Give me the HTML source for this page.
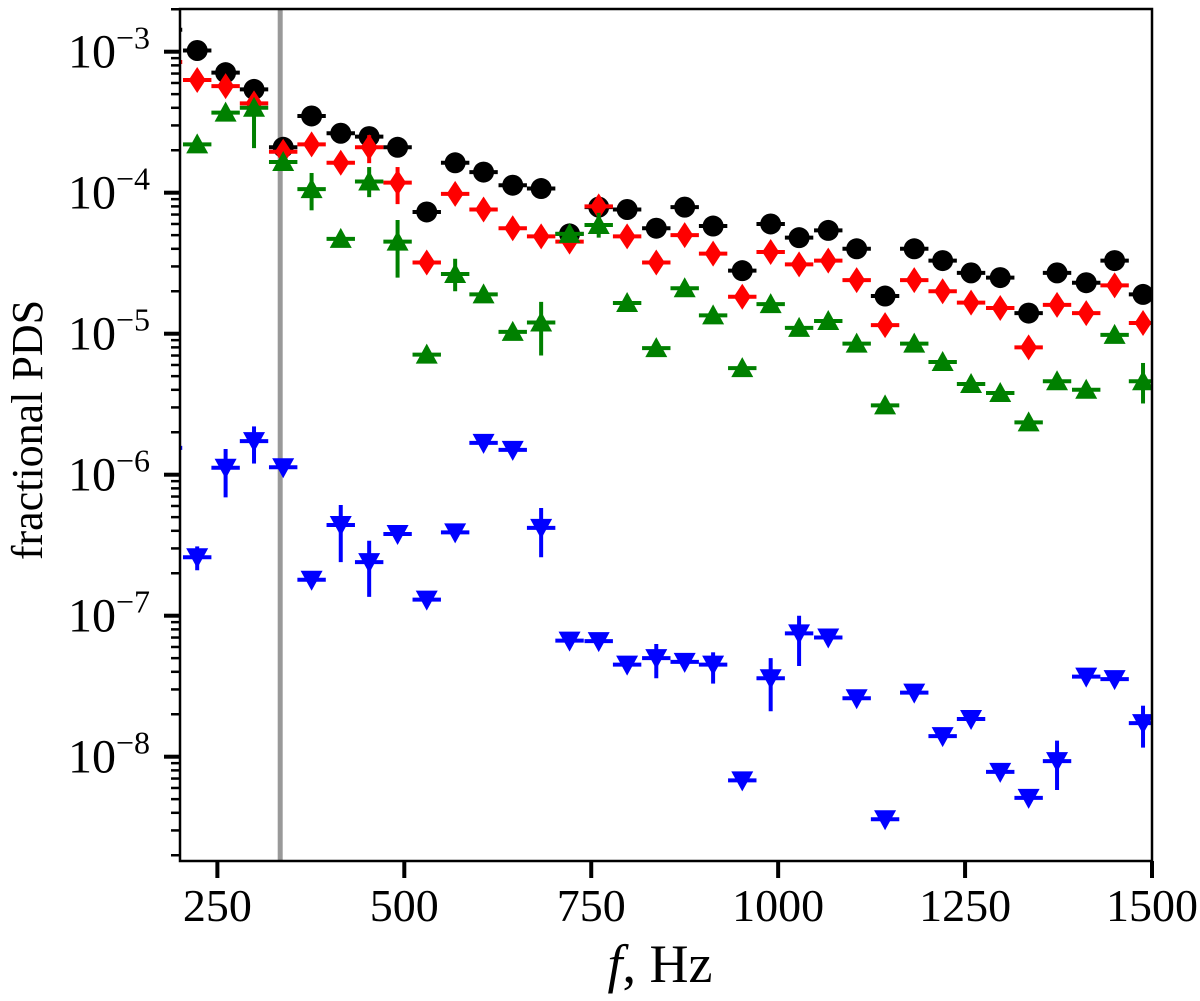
<!DOCTYPE html>
<html><head><meta charset="utf-8"><style>
html,body{margin:0;padding:0;background:#fff;}
svg text{font-family:"Liberation Serif",serif;fill:#000;}
</style></head><body>
<svg id="chart" width="1200" height="996" viewBox="0 0 1200 996" xmlns="http://www.w3.org/2000/svg">
<defs><clipPath id="plotclip"><rect x="180" y="9" width="972" height="852"/></clipPath></defs>
<g id="marks" clip-path="url(#plotclip)"></g>
<g id="axes"></g>
<text x="0" y="0" font-size="44" text-anchor="middle" transform="translate(42,430) rotate(-90)">fractional PDS</text>
<text x="660" y="982" font-size="54" text-anchor="middle"><tspan font-style="italic">f</tspan>, Hz</text>
</svg>
<script>
const freqs = [184,223,261,299,338,376,415,453,491,530,568,606,645,683,721,760,798,837,875,913,952,990,1028,1067,1105,1143,1182,1220,1258,1297,1335,1373,1412,1450,1488];
const blackVals = [1.43e-3,1.02e-3,7.1e-4,5.4e-4,2.1e-4,3.5e-4,2.64e-4,2.5e-4,2.1e-4,7.3e-5,1.63e-4,1.4e-4,1.13e-4,1.07e-4,5.1e-5,7.9e-5,7.6e-5,5.6e-5,7.9e-5,5.8e-5,2.8e-5,6.0e-5,4.8e-5,5.4e-5,4.0e-5,1.85e-5,4.0e-5,3.3e-5,2.7e-5,2.5e-5,1.4e-5,2.7e-5,2.3e-5,3.3e-5,1.9e-5];
const redVals = [8.45e-4,6.3e-4,5.7e-4,4.3e-4,1.95e-4,2.2e-4,1.63e-4,2.1e-4,1.18e-4,3.2e-5,9.8e-5,7.6e-5,5.6e-5,4.9e-5,4.5e-5,8.0e-5,4.9e-5,3.2e-5,5.0e-5,3.7e-5,1.83e-5,3.8e-5,3.1e-5,3.3e-5,2.4e-5,1.15e-5,2.4e-5,2.0e-5,1.66e-5,1.52e-5,8.0e-6,1.6e-5,1.4e-5,2.2e-5,1.19e-5];
const greenVals = [null,2.2e-4,3.7e-4,4.0e-4,1.65e-4,1.06e-4,4.7e-5,1.2e-4,4.5e-5,7.1e-6,2.65e-5,1.9e-5,1.03e-5,1.2e-5,5.1e-5,5.9e-5,1.65e-5,7.9e-6,2.1e-5,1.35e-5,5.7e-6,1.62e-5,1.1e-5,1.23e-5,8.5e-6,3.1e-6,8.5e-6,6.3e-6,4.4e-6,3.8e-6,2.35e-6,4.6e-6,4.0e-6,9.8e-6,4.6e-6];
const blueVals = [1.55e-6,2.6e-7,1.12e-6,1.73e-6,1.13e-6,1.8e-7,4.4e-7,2.4e-7,3.8e-7,1.3e-7,3.9e-7,1.68e-6,1.5e-6,4.2e-7,6.65e-8,6.6e-8,4.5e-8,5.0e-8,4.7e-8,4.5e-8,6.8e-9,3.6e-8,7.5e-8,7.0e-8,2.6e-8,3.6e-9,2.85e-8,1.4e-8,1.85e-8,7.8e-9,5.1e-9,9.3e-9,3.7e-8,3.55e-8,1.73e-8];
const redErr = [[7,2.56e-4,1.62e-4],[8,1.52e-4,8.3e-5]];
const greenErr = [[3,4.5e-4,2.07e-4],[5,1.38e-4,7.5e-5],[7,1.52e-4,9.3e-5],[8,6.4e-5,2.5e-5],[10,3.4e-5,2.0e-5],[13,1.68e-5,7.0e-6],[15,7.2e-5,4.8e-5],[34,6.2e-6,3.2e-6]];
const blueErr = [[1,3.1e-7,2.1e-7],[2,1.52e-6,6.9e-7],[3,2.2e-6,1.2e-6],[6,6.1e-7,2.4e-7],[7,3.4e-7,1.36e-7],[13,5.8e-7,2.6e-7],[17,6.3e-8,3.6e-8],[19,5.5e-8,3.3e-8],[21,5.0e-8,2.1e-8],[22,1.0e-7,4.4e-8],[31,1.3e-8,5.8e-9],[34,2.3e-8,1.16e-8]];
const binHalfWidth = 19;
const refLineFreq = 334;
const xTicks = [250,500,750,1000,1250,1500];
const yTickExps = [-3,-4,-5,-6,-7,-8];

const NS = "http://www.w3.org/2000/svg";
const X0=180, X1=1152, Y0=9, Y1=861;
function xPx(f){ return X0 + (f-200)/(1500-200)*(X1-X0); }
function yPx(v){ return 51.7 + (-3 - Math.log10(v))*141; }
function mk(tag, attrs, parent){ const e=document.createElementNS(NS,tag); for(const k in attrs) e.setAttribute(k,attrs[k]); parent.appendChild(e); return e; }
const marks=document.getElementById('marks');
const axes=document.getElementById('axes');

const rl = mk('line',{x1:xPx(refLineFreq),x2:xPx(refLineFreq),y1:Y0,y2:Y1,stroke:'#999',"stroke-width":5},marks);



function drawSeries(name, vals, errs, color, shape){
  const g=mk('g',{},marks);
  
  
  vals.forEach((v,i)=>{
    if(v===null) return;
    const cx=xPx(freqs[i]), cy=yPx(v);
    const xl=mk('line',{x1:xPx(freqs[i]-binHalfWidth),x2:xPx(freqs[i]+binHalfWidth),y1:cy,y2:cy,stroke:color,"stroke-width":4},g);
    
    
    let m;
    if(shape==='circle') m=mk('circle',{cx:cx,cy:cy,r:10.5,fill:color},g);
    else if(shape==='diamond') m=mk('polygon',{points:`${cx},${cy-13} ${cx+8.5},${cy} ${cx},${cy+13} ${cx-8.5},${cy}`,fill:color},g);
    else if(shape==='up') m=mk('polygon',{points:`${cx},${cy-11} ${cx+11},${cy+9} ${cx-11},${cy+9}`,fill:color},g);
    else m=mk('polygon',{points:`${cx},${cy+11} ${cx+11},${cy-9} ${cx-11},${cy-9}`,fill:color},g);
    
    
  });
  errs.forEach(e=>{
    const cx=xPx(freqs[e[0]]);
    const el=mk('line',{x1:cx,x2:cx,y1:yPx(e[1]),y2:yPx(e[2]),stroke:color,"stroke-width":4},g);
    
    
  });
}
drawSeries('black', blackVals, [], '#000', 'circle');
drawSeries('red', redVals, redErr, '#ff0000', 'diamond');
drawSeries('green', greenVals, greenErr, '#008000', 'up');
drawSeries('blue', blueVals, blueErr, '#0000ff', 'down');

const fr=mk('rect',{x:X0,y:Y0,width:X1-X0,height:Y1-Y0,fill:'none',stroke:'#000',"stroke-width":2.5},axes);



xTicks.forEach(t=>{
  const x=xPx(t);
  const tk=mk('line',{x1:x,x2:x,y1:Y1,y2:Y1+17,stroke:'#000',"stroke-width":4},axes);
  
  
  const tx=mk('text',{x:x,y:921,"font-size":46,"text-anchor":"middle"},axes);
  tx.textContent=String(t);
  
  
});

for(let e=-9;e<=-3;e++){
  for(let k=2;k<=9;k++){
    const y=yPx(k*Math.pow(10,e));
    if(y<Y0||y>Y1) continue;
    const mt=mk('line',{x1:X0-9,x2:X0,y1:y,y2:y,stroke:'#000',"stroke-width":2.5},axes);
    
    
  }
}
yTickExps.forEach(e=>{
  const y=yPx(Math.pow(10,e));
  const tk=mk('line',{x1:X0-16,x2:X0,y1:y,y2:y,stroke:'#000',"stroke-width":4},axes);
  
  
  const tx=mk('text',{x:150,y:y+16,"font-size":48,"text-anchor":"end"},axes);
  
  
  const a=document.createElementNS(NS,'tspan'); a.textContent='10'; tx.appendChild(a);
  const b=document.createElementNS(NS,'tspan'); b.setAttribute('font-size','32'); b.setAttribute('dy','-19'); b.textContent='\u2212'+String(-e); tx.appendChild(b);
});
</script>
</body></html>
